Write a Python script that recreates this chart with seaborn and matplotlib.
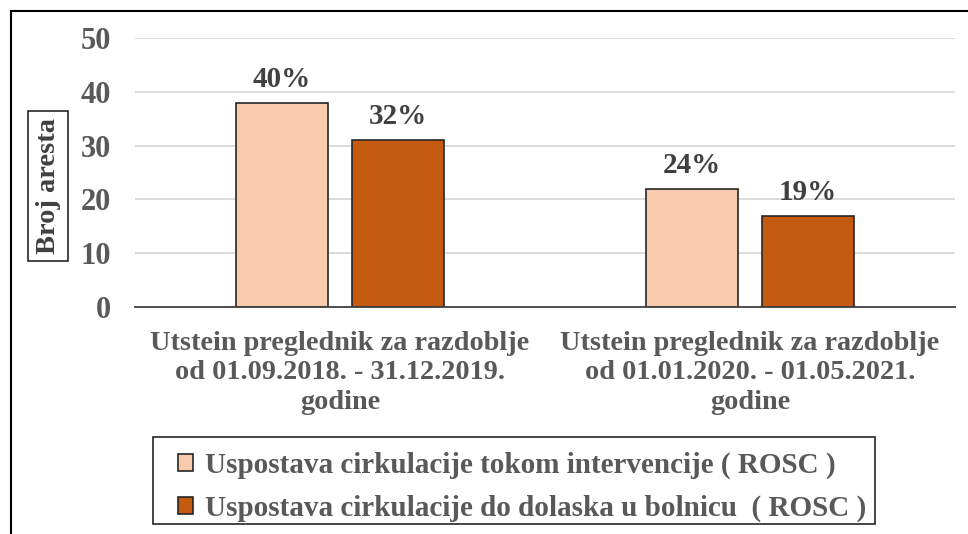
import matplotlib
matplotlib.use("Agg")
import matplotlib.pyplot as plt
import seaborn as sns
import pandas as pd
from matplotlib.lines import Line2D
from matplotlib.patches import Rectangle

# ---- data ----
categories = [
    "Utstein preglednik za razdoblje\nod 01.09.2018. - 31.12.2019.\ngodine",
    "Utstein preglednik za razdoblje\nod 01.01.2020. - 01.05.2021.\ngodine",
]
series_names = [
    "Uspostava cirkulacije tokom intervencije ( ROSC )",
    "Uspostava cirkulacije do dolaska u bolnicu  ( ROSC )",
]
values_intervention = [38, 22]
values_hospital = [31, 17]
pct_intervention = ["40%", "24%"]
pct_hospital = ["32%", "19%"]
y_ticks = [0, 10, 20, 30, 40, 50]

df = pd.DataFrame({
    "category": categories * 2,
    "series": [series_names[0]] * 2 + [series_names[1]] * 2,
    "value": values_intervention + values_hospital,
})

colors = ["#F8CBAD", "#C55A11"]
txt_gray = "#595959"
font = ["Liberation Serif", "DejaVu Serif"]
plt.rcParams["font.family"] = font
plt.rcParams["font.weight"] = "bold"

W, H = 968, 534
fig = plt.figure(figsize=(W / 100, H / 100), dpi=100)
ax = fig.add_axes([135 / W, 1 - 307 / H, 820 / W, 269 / H])

sns.barplot(data=df, x="category", y="value", hue="series", order=categories,
            hue_order=series_names, palette=colors, width=0.565, gap=0.2035,
            edgecolor="#262626", linewidth=1.2, ax=ax, legend=True, saturation=1)

ax.set_ylim(0, 50)
ax.set_yticks(y_ticks)
ax.set_yticklabels([str(t) for t in y_ticks], fontsize=22, color=txt_gray, fontweight="bold")
ax.tick_params(axis="y", length=0, pad=17)
ax.tick_params(axis="x", length=0, pad=17)
for lbl in ax.get_xticklabels():
    lbl.set_fontsize(20.3)
    lbl.set_color(txt_gray)
    lbl.set_fontweight("bold")
    lbl.set_linespacing(1.25)
ax.set_xlabel("")
ax.yaxis.grid(True, color="#D9D9D9", linewidth=1.3)
ax.set_axisbelow(True)
for s in ["left", "right", "top"]:
    ax.spines[s].set_visible(False)
ax.spines["bottom"].set_color("#404040")
ax.spines["bottom"].set_linewidth(1.3)

# y label in a box
ax.set_ylabel("Broj aresta", fontsize=20.5, color="#404040", fontweight="bold",
              bbox=dict(boxstyle="square,pad=0.25", fc="white", ec="#262626", lw=1.2))
ax.yaxis.set_label_coords(-0.106, 0.45)
ax.yaxis.label.set_va("center")

# percentage labels
labels_all = [pct_intervention, pct_hospital]
for cont, labs in zip(ax.containers, labels_all):
    ax.bar_label(cont, labels=labs, padding=7, fontsize=21, color="#404040",
                 fontweight="bold")

# legend (frameless, with a separate frame rectangle)
handles, labs = ax.get_legend_handles_labels()
ax.get_legend().remove()
leg = fig.legend(handles, labs, loc="upper left",
                 bbox_to_anchor=(178 / W, 1 - 452 / H),
                 borderaxespad=0, borderpad=0, frameon=False,
                 prop={"family": font, "weight": "bold", "size": 21},
                 handlelength=0.52, handleheight=0.52, handletextpad=0.41,
                 labelspacing=0.52)
for t in leg.get_texts():
    t.set_color(txt_gray)
fig.add_artist(Rectangle((153 / W, 1 - 524 / H), 722 / W, 87 / H,
                         transform=fig.transFigure, fill=False,
                         edgecolor="#262626", lw=1.2))

# figure frame (left and top edges visible)
fig.add_artist(Line2D([11 / W, 11 / W], [0, 1 - 11 / H], transform=fig.transFigure,
                      color="black", lw=1.5))
fig.add_artist(Line2D([11 / W, 1], [1 - 11 / H, 1 - 11 / H], transform=fig.transFigure,
                      color="black", lw=1.5))

fig.savefig("out.png", dpi=100)
